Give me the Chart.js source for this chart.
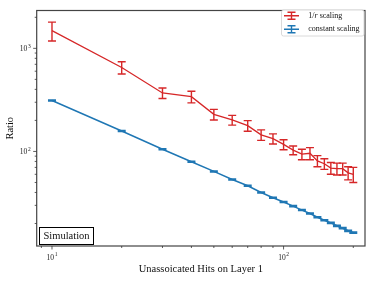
<!DOCTYPE html>
<html><head><meta charset="utf-8">
<script src="https://cdn.jsdelivr.net/npm/chart.js@4.4.1/dist/chart.umd.min.js"></script>
<style>html,body{margin:0;padding:0;background:#fff}#wrap{width:374px;height:281px;position:relative}</style>
</head><body><div id="wrap"><canvas id="c" width="374" height="281"></canvas></div>
<script>
// ---- data ----
const hits = [10,20,30,40,50,60,70,80,90,100,110,120,130,140,150,160,170,180,190,200];
const ratioInvR = [1486,652,369,340,229,202,178,145,133,117,103,94,96,81,76,69,68,68,62,60];
const errInvR   = [308,89,43,44,27,22,21,17,15,13,10,11,13,10,9,9,9,9,9,10];
const ratioConst = [312,158,105,79.5,64,53.5,46.5,40,35.5,32.3,29.5,27,25,23,21.5,20.3,19,18,17,16.3];
const errConst   = [3.5,1.8,1.2,0.9,0.8,0.6,0.55,0.5,0.45,0.4,0.38,0.35,0.33,0.3,0.3,0.28,0.27,0.26,0.25,0.25];
const seriesNames = ['1/r scaling','constant scaling'];
const xTickValues = [9,10,20,30,40,50,60,70,80,90,100,200];
const xTickExp    = ['', '1','','','','','','','','','2',''];
const yTickValues = [20,30,40,50,60,70,80,90,100,200,300,400,500,600,700,800,900,1000,2000];
const yTickExp    = ['','','','','','','','','2','','','','','','','','','3',''];
const xTitle = 'Unassoicated Hits on Layer 1';
const yTitle = 'Ratio';
const badge = 'Simulation';

const RED = '#d62728', BLUE = '#1f77b4';
const SERIF = "'Liberation Serif', 'DejaVu Serif', serif";

const errs = [errInvR, errConst];

function powLabel(ctx, exp, x, y, align) {
  ctx.font = '7.5px ' + SERIF;
  const wb = ctx.measureText('10').width;
  ctx.font = '5.5px ' + SERIF;
  const we = ctx.measureText(exp).width + 0.6;
  const w = wb + we;
  let sx = align === 'center' ? x - w / 2 : x - w;
  ctx.textAlign = 'left';
  ctx.textBaseline = 'alphabetic';
  ctx.font = '7.5px ' + SERIF;
  ctx.fillText('10', sx, y);
  ctx.font = '5.5px ' + SERIF;
  ctx.fillText(exp, sx + wb + 0.6, y - 3.3);
}

const errorBarPlugin = {
  id: 'errbars',
  afterDatasetsDraw(chart) {
    const ctx = chart.ctx, xs = chart.scales.x, ys = chart.scales.y;
    chart.data.datasets.forEach((ds, d) => {
      const e = errs[d];
      ctx.save();
      ctx.strokeStyle = ds.borderColor;
      ctx.lineWidth = 1.4;
      ds.data.forEach((p, i) => {
        const x = xs.getPixelForValue(p.x);
        const y1 = ys.getPixelForValue(p.y + e[i]);
        const y2 = ys.getPixelForValue(p.y - e[i]);
        ctx.beginPath();
        ctx.moveTo(x, y1); ctx.lineTo(x, y2);
        ctx.moveTo(x - 4, y1); ctx.lineTo(x + 4, y1);
        ctx.moveTo(x - 4, y2); ctx.lineTo(x + 4, y2);
        ctx.stroke();
      });
      ctx.restore();
    });
  },
  afterDraw(chart) {
    const ctx = chart.ctx, a = chart.chartArea, xs = chart.scales.x, ys = chart.scales.y;
    ctx.save();
    // frame
    ctx.strokeStyle = '#444';
    ctx.lineWidth = 1.2;
    ctx.strokeRect(a.left, a.top, a.right - a.left, a.bottom - a.top);
    // ticks + labels
    ctx.lineWidth = 0.8;
    ctx.strokeStyle = '#333';
    ctx.fillStyle = '#222';
    xTickValues.forEach((v, i) => {
      const x = xs.getPixelForValue(v);
      const len = xTickExp[i] ? 3.5 : 2;
      ctx.beginPath(); ctx.moveTo(x, a.bottom); ctx.lineTo(x, a.bottom + len); ctx.stroke();
      if (xTickExp[i]) powLabel(ctx, xTickExp[i], x, a.bottom + 13.5, 'center');
    });
    yTickValues.forEach((v, i) => {
      const y = ys.getPixelForValue(v);
      const len = yTickExp[i] ? 3.5 : 2;
      ctx.beginPath(); ctx.moveTo(a.left, y); ctx.lineTo(a.left - len, y); ctx.stroke();
      if (yTickExp[i]) powLabel(ctx, yTickExp[i], a.left - 6, y + 2.6, 'right');
    });
    // Simulation badge
    ctx.fillStyle = '#fff';
    ctx.fillRect(39.5, 227.5, 54, 17);
    ctx.strokeStyle = '#000';
    ctx.lineWidth = 1;
    ctx.strokeRect(39.5, 227.5, 54, 17);
    ctx.fillStyle = '#111';
    ctx.font = '10.5px ' + SERIF;
    ctx.textBaseline = 'middle';
    ctx.textAlign = 'center';
    ctx.fillText(badge, 66.5, 236.5);
    // legend
    const lx = 281.5, ly = 10, lw = 82.5, lh = 26;
    ctx.fillStyle = '#fff';
    ctx.strokeStyle = '#d0d0d0';
    ctx.lineWidth = 0.8;
    ctx.beginPath();
    ctx.roundRect(lx, ly, lw, lh, 2);
    ctx.fill(); ctx.stroke();
    const rows = [15.8, 29.3];
    const cols = [RED, BLUE];
    rows.forEach((ry, k) => {
      ctx.strokeStyle = cols[k];
      ctx.lineWidth = 1.4;
      ctx.beginPath();
      ctx.moveTo(284, ry); ctx.lineTo(299, ry);
      ctx.moveTo(291.5, ry - 3.5); ctx.lineTo(291.5, ry + 3.5);
      ctx.moveTo(287.5, ry - 3.5); ctx.lineTo(295.5, ry - 3.5);
      ctx.moveTo(287.5, ry + 3.5); ctx.lineTo(295.5, ry + 3.5);
      ctx.stroke();
    });
    ctx.fillStyle = '#111';
    ctx.textAlign = 'left';
    ctx.textBaseline = 'middle';
    ctx.font = '8px ' + SERIF;
    let tx = 308.3;
    const parts = seriesNames[0].split('r');
    ctx.fillText(parts[0], tx, rows[0]); tx += ctx.measureText(parts[0]).width;
    ctx.font = 'italic 8px ' + SERIF;
    ctx.fillText('r', tx, rows[0]); tx += ctx.measureText('r').width;
    ctx.font = '8px ' + SERIF;
    ctx.fillText(parts.slice(1).join('r'), tx, rows[0]);
    ctx.fillText(seriesNames[1], 308.3, rows[1]);
    ctx.restore();
  }
};

const mk = (ys) => hits.map((x, i) => ({x, y: ys[i]}));

new Chart(document.getElementById('c'), {
  type: 'line',
  data: {
    datasets: [
      {label: seriesNames[0], data: mk(ratioInvR), borderColor: RED, backgroundColor: RED, borderWidth: 1.3, pointRadius: 0, tension: 0, fill: false},
      {label: seriesNames[1], data: mk(ratioConst), borderColor: BLUE, backgroundColor: BLUE, borderWidth: 1.5, pointRadius: 0, tension: 0, fill: false}
    ]
  },
  options: {
    responsive: false,
    animation: false,
    devicePixelRatio: 1,
    layout: {padding: {top: 5.7, right: 9, left: 0, bottom: 0}},
    plugins: {legend: {display: false}, tooltip: {enabled: false}},
    scales: {
      x: {
        type: 'logarithmic', min: 8.59, max: 224.7,
        afterFit(s) { s.height = 35; },
        afterBuildTicks(s) { s.ticks = xTickValues.map(v => ({value: v})); },
        grid: {display: false, drawTicks: false, tickLength: 0},
        border: {display: false},
        ticks: {autoSkip: false, maxRotation: 0, padding: 6, color: '#222',
          font: {family: SERIF, size: 7.5},
          callback: () => ''},
        title: {display: true, text: xTitle, color: '#111',
          font: {family: SERIF, size: 10.5}, padding: {top: 0, bottom: 5.4}}
      },
      y: {
        type: 'logarithmic', min: 12.1, max: 2328,
        afterFit(s) { s.width = 36.7; },
        afterBuildTicks(s) { s.ticks = yTickValues.map(v => ({value: v})); },
        grid: {display: false, drawTicks: false, tickLength: 0},
        border: {display: false},
        ticks: {autoSkip: false, padding: 6, color: '#222',
          font: {family: SERIF, size: 7.5},
          callback: () => ''},
        title: {display: true, text: yTitle, color: '#111',
          font: {family: SERIF, size: 10.5}, padding: {top: 3.7, bottom: 0}}
      }
    }
  },
  plugins: [errorBarPlugin]
});
</script>
</body></html>
